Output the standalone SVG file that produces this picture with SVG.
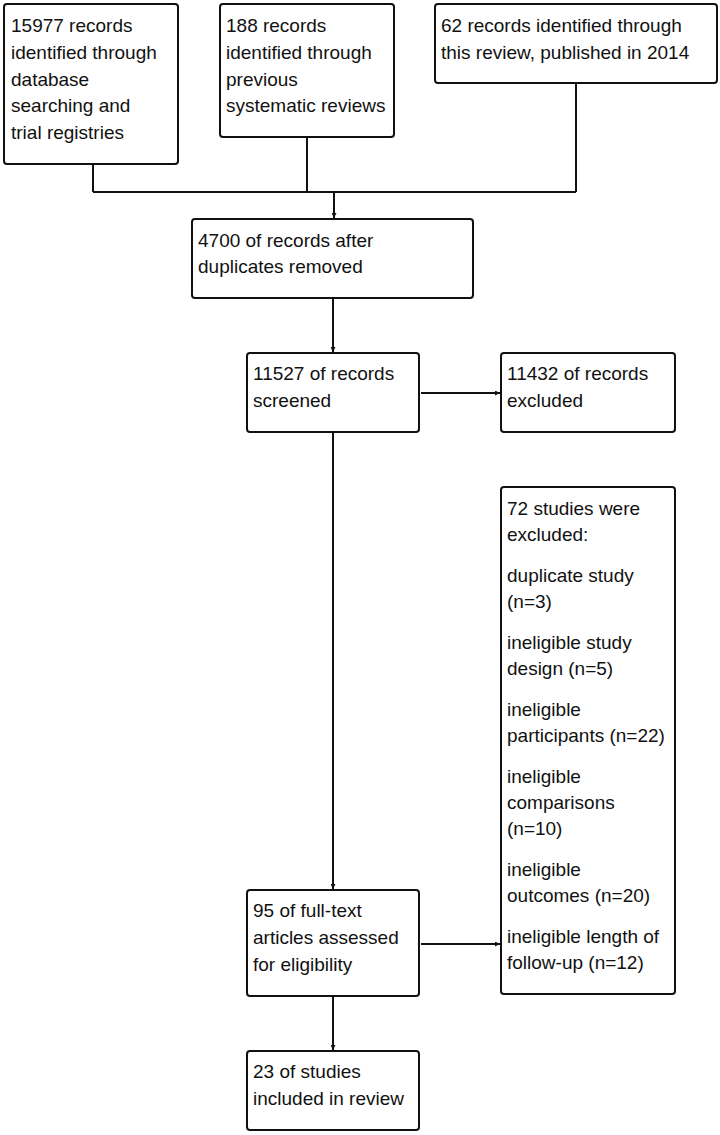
<svg xmlns="http://www.w3.org/2000/svg" width="720" height="1135" viewBox="0 0 720 1135">
<style>
.box{fill:#fff;stroke:#111;stroke-width:2}
.t{font-family:"Liberation Sans",Arial,sans-serif;font-size:19px;fill:#111}
.c{fill:none;stroke:#111;stroke-width:2}
</style>
<defs>
<marker id="ah" viewBox="0 0 10 10" refX="10" refY="5" markerWidth="5" markerHeight="5" orient="auto" markerUnits="userSpaceOnUse">
<path d="M0,0 L10,5 L0,10 Z" fill="#111"/>
</marker>
</defs>
<rect width="720" height="1135" fill="#fff"/>
<g id="connectors">
<path class="c" d="M93,164 V192 M307,137 V192 M576,83 V192 M93,192 H576"/>
<path class="c" d="M334,192 V218" marker-end="url(#ah)"/>
<path class="c" d="M333,298 V352" marker-end="url(#ah)"/>
<path class="c" d="M421,393 H500" marker-end="url(#ah)"/>
<path class="c" d="M333,432 V889" marker-end="url(#ah)"/>
<path class="c" d="M421,944 H500" marker-end="url(#ah)"/>
<path class="c" d="M333,996 V1050" marker-end="url(#ah)"/>
</g>
<g id="n1">
<rect class="box" x="4" y="4" width="174" height="160" rx="3"/>
<text class="t" x="11" y="32">15977 records</text>
<text class="t" x="11" y="59">identified through</text>
<text class="t" x="11" y="86">database</text>
<text class="t" x="11" y="112">searching and</text>
<text class="t" x="11" y="139">trial registries</text>
</g>
<g id="n2">
<rect class="box" x="220" y="4" width="174" height="133" rx="3"/>
<text class="t" x="226" y="32">188 records</text>
<text class="t" x="226" y="59">identified through</text>
<text class="t" x="226" y="86">previous</text>
<text class="t" x="226" y="112">systematic reviews</text>
</g>
<g id="n3">
<rect class="box" x="435" y="4" width="282" height="79" rx="3"/>
<text class="t" x="441" y="32">62 records identified through</text>
<text class="t" x="441" y="59">this review, published in 2014</text>
</g>
<g id="n4">
<rect class="box" x="192" y="219" width="281" height="79" rx="3"/>
<text class="t" x="198" y="247">4700 of records after</text>
<text class="t" x="198" y="273">duplicates removed</text>
</g>
<g id="n5">
<rect class="box" x="247" y="353" width="172" height="79" rx="3"/>
<text class="t" x="253" y="380">11527 of records</text>
<text class="t" x="253" y="407">screened</text>
</g>
<g id="n6">
<rect class="box" x="501" y="353" width="174" height="79" rx="3"/>
<text class="t" x="507" y="380">11432 of records</text>
<text class="t" x="507" y="407">excluded</text>
</g>
<g id="n7">
<rect class="box" x="501" y="487" width="174" height="507" rx="3"/>
<text class="t" x="507" y="515">72 studies were</text>
<text class="t" x="507" y="541">excluded:</text>
<text class="t" x="507" y="582">duplicate study</text>
<text class="t" x="507" y="608">(n=3)</text>
<text class="t" x="507" y="649">ineligible study</text>
<text class="t" x="507" y="675">design (n=5)</text>
<text class="t" x="507" y="716">ineligible</text>
<text class="t" x="507" y="742">participants (n=22)</text>
<text class="t" x="507" y="783">ineligible</text>
<text class="t" x="507" y="809">comparisons</text>
<text class="t" x="507" y="835">(n=10)</text>
<text class="t" x="507" y="876">ineligible</text>
<text class="t" x="507" y="902">outcomes (n=20)</text>
<text class="t" x="507" y="943">ineligible length of</text>
<text class="t" x="507" y="969">follow-up (n=12)</text>
</g>
<g id="n8">
<rect class="box" x="247" y="890" width="172" height="106" rx="3"/>
<text class="t" x="253" y="917">95 of full-text</text>
<text class="t" x="253" y="944">articles assessed</text>
<text class="t" x="253" y="971">for eligibility</text>
</g>
<g id="n9">
<rect class="box" x="247" y="1051" width="172" height="79" rx="3"/>
<text class="t" x="253" y="1078">23 of studies</text>
<text class="t" x="253" y="1105">included in review</text>
</g>
</svg>
